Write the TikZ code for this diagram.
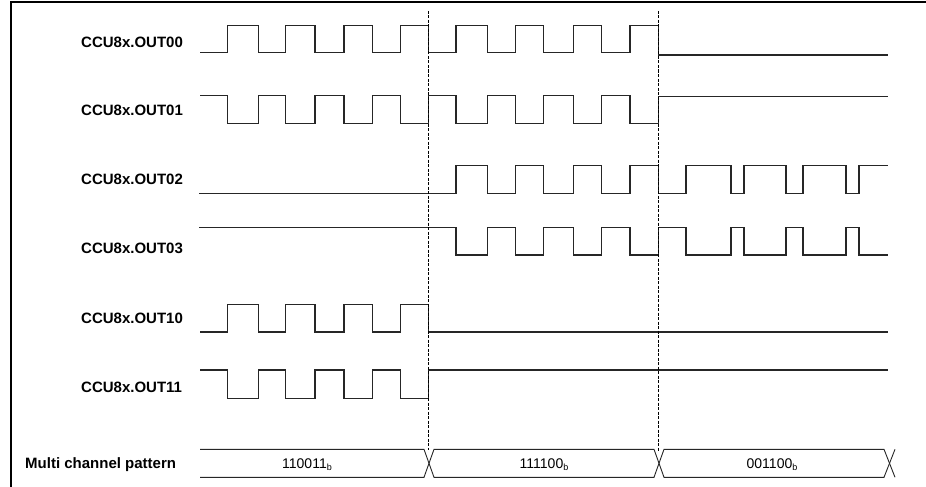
\documentclass[tikz,border=0pt]{standalone}
\usepackage{fontspec}
\setmainfont{Liberation Sans}
\begin{document}
\begin{tikzpicture}[x=1pt,y=-1pt,
  wave/.style={line width=1.2pt, line join=miter, black!85},
  busline/.style={line width=0.9pt, black!85},
  dashline/.style={line width=1.4pt, dash pattern=on 3pt off 1.5pt, black},
  frameline/.style={line width=1.2pt, black},
  lbl/.style={anchor=base west, inner sep=0pt, font=\fontsize{15}{18}\selectfont\bfseries},
  val/.style={anchor=base, inner sep=0pt, font=\fontsize{14}{16}\selectfont}]
\useasboundingbox (0,0) rectangle (926,487);
% frame
\draw[frameline] (11,487) -- (11,2) -- (926,2);
% labels
\node[lbl] (l00) at (81,47.1) {CCU8x.OUT00};
\node[lbl] (l01) at (81,115.4) {CCU8x.OUT01};
\node[lbl] (l02) at (81,184.7) {CCU8x.OUT02};
\node[lbl] (l03) at (81,253.7) {CCU8x.OUT03};
\node[lbl] (l10) at (81,323.7) {CCU8x.OUT10};
\node[lbl] (l11) at (81,392.1) {CCU8x.OUT11};
\node[lbl] (lmc) at (25,468.3) {Multi channel pattern};
% OUT00
\draw[wave] (200,52.7) -| (227.5,25.7) -| (258.5,52.7) -| (285.5,25.7) -| (315,52.7) -| (344,25.7) -| (372.5,52.7) -| (400.5,25.7) -| (428.5,52.7)
  -| (456,25.7) -| (487.5,52.7) -| (515.5,25.7) -| (543.5,52.7) -| (573.5,25.7) -| (601.5,52.7) -| (630,25.7) -| (658.5,55) -- (888,55);
% OUT01
\draw[wave] (200,95.7) -| (227.5,123.3) -| (258.5,95.7) -| (285.5,123.3) -| (315,95.7) -| (344,123.3) -| (372.5,95.7) -| (400.5,123.3) -| (428.5,95.7)
  -| (456,123.3) -| (487.5,95.7) -| (515.5,123.3) -| (543.5,95.7) -| (573.5,123.3) -| (601.5,95.7) -| (630,123.3) -| (658.5,96.3) -- (888,96.3);
% OUT02
\draw[wave] (199,193.3) -| (456,165.7) -| (487.5,193.3) -| (515.5,165.7) -| (543.5,193.3) -| (573.5,165.7) -| (601.5,193.3) -| (630,165.7) -| (658.5,193.3)
  -| (686,165.7) -| (731,193.3) -| (744,165.7) -| (786,193.3) -| (803,165.7) -| (846,193.3) -| (859,165.7) -- (888,165.7);
% OUT03
\draw[wave] (199,227.7) -| (456,255) -| (487.5,227.7) -| (515.5,255) -| (543.5,227.7) -| (573.5,255) -| (601.5,227.7) -| (630,255) -| (658.5,227.7)
  -| (686,255) -| (731,227.7) -| (744,255) -| (786,227.7) -| (803,255) -| (846,227.7) -| (859,255) -- (888,255);
% OUT10
\draw[wave] (200,332) -| (227.5,304.3) -| (258.5,332) -| (285.5,304.3) -| (315,332) -| (344,304.3) -| (372.5,332) -| (400.5,304.3) -| (428.5,332) -- (888,332);
% OUT11
\draw[wave] (200,370) -| (227.5,398.3) -| (258.5,370) -| (285.5,398.3) -| (315,370) -| (344,398.3) -| (372.5,370) -| (400.5,398.3) -| (428.5,370) -- (888,370);
% dashed markers
\coordinate (d1t) at (428.5,11);
\coordinate (d1b) at (428.5,450);
\coordinate (d2t) at (658.5,11);
\coordinate (d2b) at (658.5,451);
\draw[dashline] (d1t) -- (d1b);
\draw[dashline] (d2t) -- (d2b);
% bus
\draw[busline] (200,449.3) -- (424,449.3) -- (434,477.3) -- (654,477.3) -- (664,449.3) -- (884,449.3) -- (895,477.3);
\draw[busline] (200,477.3) -- (424,477.3) -- (434,449.3) -- (654,449.3) -- (664,477.3) -- (884,477.3) -- (895,449.3);
\node[val] (v1) at (307,468.5) {110011\raisebox{-2pt}{\fontsize{9}{9}\selectfont b}};
\node[val] (v2) at (544,468.5) {111100\raisebox{-2pt}{\fontsize{9}{9}\selectfont b}};
\node[val] (v3) at (772,468.5) {001100\raisebox{-2pt}{\fontsize{9}{9}\selectfont b}};
\end{tikzpicture}
\end{document}
